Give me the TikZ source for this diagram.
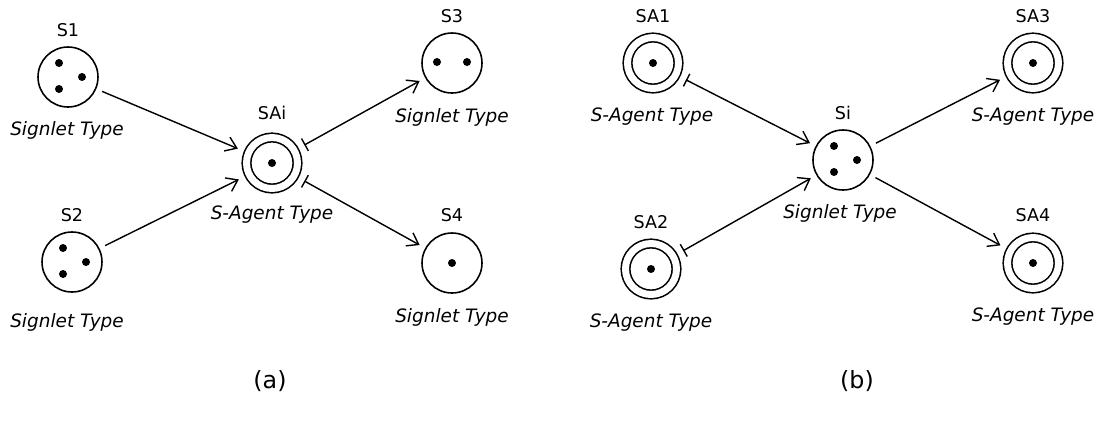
\documentclass[tikz,border=0pt]{standalone}
\usepackage{fontspec}
\setmainfont{DejaVu Sans}
\usetikzlibrary{arrows.meta}

\tikzset{
  signlet/.style={circle, draw, line width=0.9pt, minimum size=1.2cm, inner sep=0pt, outer sep=0.14cm},
  sagent/.style={signlet, double, double distance=0.14cm, minimum size=1.02cm, outer sep=0.23cm},
  tag/.style={font=\fontsize{10}{12}\selectfont},
  kind/.style={font=\fontsize{10.5}{12}\selectfont\itshape},
  subcap/.style={font=\fontsize{13.5}{16}\selectfont},
  link/.style={line width=0.8pt, -{Straight Barb[length=6pt,width=8.5pt]}},
  blink/.style={line width=0.8pt, {Bar[width=8pt]}-{Straight Barb[length=6pt,width=8.5pt]}}
}

\begin{document}
\begin{tikzpicture}[x=0.02cm, y=-0.02cm]
  \useasboundingbox (0,0) rectangle (1099,424);

  % (a) one s-agent fed by signlets
  \node[signlet] (s1) at (68,77) {};
  \node[signlet] (s2) at (72,262) {};
  \node[sagent] (sai) at (272,163) {};
  \node[signlet] (s3) at (452,63) {};
  \node[signlet] (s4) at (452,263) {};

  \node[tag] (s1-tag) at (68,30) {S1};
  \node[tag] (s2-tag) at (72,215) {S2};
  \node[tag] (sai-tag) at (272,113) {SAi};
  \node[tag] (s3-tag) at (452,16) {S3};
  \node[tag] (s4-tag) at (452,215) {S4};

  \node[kind] (s1-kind) at (67,130) {Signlet Type};
  \node[kind] (s2-kind) at (67,322) {Signlet Type};
  \node[kind] (sai-kind) at (272,215) {S-Agent Type};
  \node[kind] (s3-kind) at (452,117) {Signlet Type};
  \node[kind] (s4-kind) at (452,317) {Signlet Type};

  % (b) one signlet shared by s-agents
  \node[sagent] (sa1) at (653,63) {};
  \node[sagent] (sa2) at (651,269) {};
  \node[signlet] (si) at (843,160) {};
  \node[sagent] (sa3) at (1033,63) {};
  \node[sagent] (sa4) at (1033,263) {};

  \node[tag] (sa1-tag) at (653,16) {SA1};
  \node[tag] (sa2-tag) at (651,222) {SA2};
  \node[tag] (si-tag) at (843,113) {Si};
  \node[tag] (sa3-tag) at (1033,16) {SA3};
  \node[tag] (sa4-tag) at (1033,215) {SA4};

  \node[kind] (sa1-kind) at (652,117) {S-Agent Type};
  \node[kind] (sa2-kind) at (651,323) {S-Agent Type};
  \node[kind] (si-kind) at (840,213) {Signlet Type};
  \node[kind] (sa3-kind) at (1033,117) {S-Agent Type};
  \node[kind] (sa4-kind) at (1033,317) {S-Agent Type};

  % dots inside the circles
  \foreach \c in {s1,s2,si}
    \foreach \dx/\dy in {-9/-14, 14/0, -9/12}
      \fill (\c) ++(\dx,\dy) circle (4);
  \foreach \dx in {-15,15}
    \fill (s3) ++(\dx,-1) circle (4);
  \foreach \c in {s4,sai,sa1,sa2,sa3,sa4}
    \fill (\c) circle (4);

  % connectors
  \draw[link] (s1) -- (sai);
  \draw[link] (s2) -- (sai);
  \draw[blink] (sai) -- (s3);
  \draw[blink] (sai) -- (s4);
  \draw[blink] (sa1) -- (si);
  \draw[blink] (sa2) -- (si);
  \draw[link] (si) -- (sa3);
  \draw[link] (si) -- (sa4);

  \node[subcap] (cap-a) at (270,381) {(a)};
  \node[subcap] (cap-b) at (857,381) {(b)};
\end{tikzpicture}
\end{document}
